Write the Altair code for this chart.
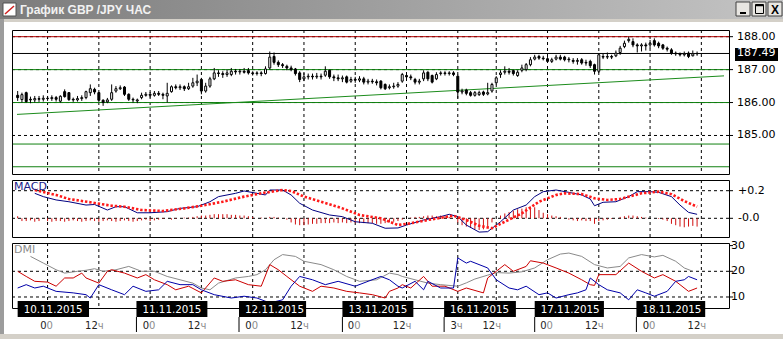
import altair as alt
import pandas as pd

FONT = "DejaVu Sans"

# ---------------- hourly candles (index 0 = first visible hour) ----------------
O = [186.22,186.09,186.30,186.10,186.08,186.12,186.10,186.13,186.12,186.15,
     186.04,186.33,186.30,186.10,186.08,186.12,186.15,186.30,186.40,186.30,
     186.07,186.02,186.10,186.35,186.42,186.47,186.25,186.10,186.05,186.15,
     186.22,186.25,186.22,186.28,186.25,186.20,186.33,186.48,186.45,186.48,
     186.42,186.50,186.60,186.70,186.35,186.50,186.72,186.90,186.88,186.85,
     186.85,186.95,186.93,186.95,186.97,186.90,186.88,186.90,186.88,187.05,
     187.40,187.22,187.15,187.10,187.05,187.02,186.90,186.72,186.78,186.80,
     186.78,186.80,186.83,186.98,186.78,186.75,186.72,186.78,186.65,186.70,
     186.68,186.72,186.62,186.65,186.63,186.65,186.55,186.45,186.48,186.50,
     186.65,186.82,186.78,186.70,186.62,186.72,186.92,186.82,186.72,186.88,
     186.90,186.88,186.90,186.80,186.32,186.38,186.30,186.22,186.24,186.32,
     186.26,186.35,186.60,186.85,186.92,186.95,186.97,186.82,186.98,187.00,
     187.15,187.32,187.40,187.35,187.33,187.25,187.32,187.38,187.38,187.32,
     187.28,187.25,187.30,187.22,187.25,187.15,186.95,187.40,187.38,187.40,
     187.42,187.52,187.70,187.88,187.85,187.75,187.72,187.75,187.75,187.88,
     187.80,187.75,187.65,187.60,187.50,187.48,187.45,187.50,187.42,187.48]
C = [186.15,186.24,186.03,186.08,186.12,186.10,186.13,186.12,186.15,186.10,
     186.19,186.18,186.09,186.08,186.12,186.15,186.33,186.42,186.32,186.07,
     186.00,186.08,186.30,186.42,186.45,186.25,186.10,186.08,186.08,186.22,
     186.25,186.22,186.28,186.25,186.22,186.28,186.48,186.45,186.48,186.42,
     186.48,186.60,186.65,186.35,186.50,186.72,186.90,186.88,186.85,186.90,
     186.95,186.93,186.95,186.92,186.90,186.88,186.90,186.88,187.02,187.38,
     187.22,187.15,187.12,187.05,187.00,186.88,186.70,186.78,186.80,186.78,
     186.80,186.78,186.95,186.78,186.75,186.72,186.75,186.62,186.70,186.68,
     186.72,186.62,186.65,186.63,186.60,186.45,186.42,186.48,186.50,186.55,
     186.85,186.78,186.75,186.62,186.65,186.90,186.72,186.62,186.85,186.90,
     186.88,186.90,186.85,186.32,186.35,186.28,186.22,186.30,186.30,186.25,
     186.30,186.55,186.75,186.90,186.95,186.92,186.88,186.92,187.05,187.15,
     187.30,187.38,187.35,187.33,187.25,187.30,187.38,187.32,187.30,187.30,
     187.25,187.28,187.20,187.20,187.12,186.95,187.45,187.38,187.40,187.38,
     187.50,187.65,187.80,187.92,187.75,187.72,187.75,187.72,187.80,187.75,
     187.72,187.65,187.62,187.50,187.48,187.45,187.48,187.40,187.48,187.49]
H = [186.35,186.30,186.33,186.18,186.20,186.20,186.22,186.20,186.22,186.20,
     186.22,186.40,186.32,186.15,186.20,186.22,186.36,186.55,186.45,186.32,
     186.10,186.14,186.55,186.50,186.52,186.50,186.28,186.15,186.12,186.30,
     186.32,186.32,186.35,186.35,186.30,186.60,186.52,186.55,186.55,186.52,
     186.60,186.75,186.85,186.75,186.60,186.78,187.05,186.98,186.95,187.00,
     187.05,187.02,187.02,187.05,187.05,186.95,186.95,186.95,187.10,187.55,
     187.52,187.28,187.20,187.15,187.12,187.05,186.95,186.90,186.88,186.88,
     186.90,186.88,187.10,187.00,186.85,186.85,186.82,186.82,186.78,186.78,
     186.80,186.78,186.72,186.72,186.70,186.68,186.58,186.55,186.60,186.62,
     186.90,186.88,186.85,186.75,186.72,186.98,186.95,186.85,186.92,186.95,
     186.95,186.95,186.95,186.85,186.42,186.42,186.35,186.35,186.36,186.36,
     186.60,186.60,186.80,186.98,187.10,187.05,187.00,186.98,187.15,187.20,
     187.38,187.45,187.45,187.42,187.38,187.36,187.45,187.45,187.42,187.38,
     187.35,187.35,187.35,187.30,187.30,187.18,187.50,187.48,187.52,187.45,
     187.58,187.72,187.88,188.00,187.95,187.80,187.80,187.82,187.90,187.95,
     187.85,187.78,187.70,187.65,187.55,187.52,187.55,187.55,187.58,187.55]
L = [186.05,186.00,186.00,185.98,186.00,186.02,186.03,186.05,186.05,186.03,
     186.00,186.15,186.05,186.02,186.03,186.05,186.10,186.20,186.25,186.02,
     185.90,185.98,186.05,186.30,186.38,186.20,186.05,186.00,185.98,186.10,
     186.18,186.15,186.18,186.20,186.10,186.00,186.30,186.40,186.38,186.35,
     186.38,186.45,186.50,186.25,186.30,186.45,186.68,186.78,186.75,186.78,
     186.80,186.85,186.85,186.88,186.85,186.82,186.82,186.80,186.85,187.00,
     187.15,187.08,187.05,186.98,186.95,186.82,186.62,186.65,186.70,186.70,
     186.72,186.70,186.78,186.72,186.65,186.65,186.62,186.58,186.60,186.60,
     186.62,186.55,186.55,186.57,186.52,186.40,186.38,186.40,186.42,186.45,
     186.60,186.70,186.68,186.55,186.55,186.65,186.65,186.58,186.68,186.82,
     186.82,186.82,186.80,186.12,186.25,186.22,186.18,186.18,186.20,186.20,
     186.22,186.30,186.55,186.75,186.85,186.85,186.82,186.78,186.92,186.95,
     187.10,187.28,187.30,187.28,187.20,187.20,187.28,187.28,187.25,187.22,
     187.18,187.15,187.15,187.12,187.05,186.85,186.90,187.32,187.32,187.32,
     187.38,187.45,187.65,187.82,187.68,187.52,187.55,187.58,187.65,187.70,
     187.65,187.60,187.55,187.45,187.42,187.40,187.40,187.35,187.40,187.42]

# ---------------- MACD ----------------
HIST = [0.015,-0.02,-0.02,-0.015,-0.025,-0.02,0.0,-0.02,-0.025,-0.02,
        -0.02,-0.025,-0.02,-0.015,-0.02,-0.025,-0.02,-0.015,-0.02,-0.025,
        -0.02,-0.015,-0.02,-0.025,-0.02,-0.015,-0.02,-0.025,-0.02,-0.015,
        -0.01,-0.02,-0.015,-0.01,-0.005,0.0,-0.01,-0.005,0.0,0.005,
        0.005,0.01,0.015,0.02,0.02,0.025,0.03,0.03,0.03,0.03,
        0.025,0.025,0.02,0.02,0.015,0.01,0.0,0.005,0.0,0.01,
        0.01,0.005,0.0,-0.01,-0.03,-0.045,-0.05,-0.05,-0.045,-0.04,
        -0.04,-0.035,-0.035,-0.035,-0.03,-0.035,-0.03,-0.035,-0.03,-0.035,
        -0.035,-0.035,-0.035,-0.035,-0.04,-0.04,-0.035,-0.03,-0.025,-0.02,
        -0.01,0.0,0.005,0.01,0.01,0.015,0.02,0.02,0.015,0.02,
        0.015,0.01,0.0,-0.03,-0.05,-0.06,-0.07,-0.08,-0.085,-0.08,
        -0.06,-0.03,0.0,0.02,0.035,0.045,0.055,0.065,0.07,0.08,
        0.085,0.08,0.06,0.04,0.03,0.02,0.015,0.01,0.0,-0.01,
        -0.015,-0.02,-0.015,-0.02,-0.02,-0.04,-0.02,-0.015,-0.01,-0.005,
        0.0,0.01,0.015,0.02,0.02,0.015,0.01,0.005,0.0,0.0,
        -0.005,-0.01,-0.02,-0.04,-0.05,-0.06,-0.065,-0.06,-0.055,-0.06]

macd_idx = [4,6,9,12,16,18,21,23,25,28,31,35,38,42,45,47,51,53,56,58,
            59,62,64,66,69,73,76,79,83,86,89,91,95,99,101,103,105,108,110,113,
            116,119,121,123,126,129,132,134,135,137,140,143,145,148,150,153,155,157,159]
macd_val = [0.181,0.157,0.133,0.12,0.096,0.10,0.06,0.084,0.084,0.04,0.04,0.048,0.072,0.084,0.12,0.157,0.181,0.198,0.181,0.169,
            0.205,0.205,0.169,0.109,0.06,0.024,0.012,-0.025,-0.036,-0.072,-0.07,-0.049,-0.012,0.012,0.029,0.012,-0.049,-0.10,-0.097,-0.025,
            0.06,0.096,0.157,0.193,0.205,0.188,0.169,0.14,0.091,0.116,0.12,0.157,0.193,0.193,0.188,0.157,0.096,0.043,0.029]
sig_idx = [4,9,12,17,22,25,29,34,39,43,48,53,57,62,64,67,71,76,80,85,
           89,92,96,102,105,108,111,114,118,122,126,128,132,135,138,141,146,150,153,156,159]
sig_val = [0.205,0.169,0.14,0.116,0.091,0.084,0.06,0.053,0.072,0.091,0.12,0.157,0.181,0.205,0.198,0.157,0.12,0.072,0.024,0.0,
           -0.049,-0.036,-0.012,0.019,-0.012,-0.054,-0.072,-0.025,0.036,0.12,0.169,0.181,0.175,0.145,0.133,0.14,0.181,0.193,0.175,0.125,0.084]

# ---------------- DMI ----------------
adx_idx = [3,6,9,11,14,16,18,20,23,26,29,32,35,38,41,43,45,47,51,54,
           56,58,60,62,65,67,71,74,77,80,84,87,89,90,93,96,99,103,105,107,
           110,112,115,118,121,124,127,129,132,135,138,141,143,146,149,151,154,156,158]
adx_val = [25.8,23.2,20.6,19.3,20,20.4,21,20,20.6,21.9,20,20,18,16.7,15.4,13.5,12.8,15.4,17.4,18,
           18.7,20.6,24.5,26.5,25.8,23.9,22.6,20.6,18,16.1,16.7,19.3,18.7,18,16.7,15.4,14.8,14.2,15.5,17.0,
           18.5,19.5,19.3,19.8,21.3,24.5,26.7,27.1,25.8,22.6,21.3,21.9,25.2,26.5,25.6,26.2,23.9,21.3,20]
pdi_idx = [0,2,4,7,9,11,13,15,16,19,21,22,25,28,30,32,35,37,40,43,
           46,48,51,54,57,59,61,63,66,69,71,74,77,80,83,86,87,89,90,92,
           95,97,100,103,105,109,110,112,114,116,119,120,123,126,129,132,134,135,136,140,
           143,146,149,151,154,157,159]
pdi_val = [20,18,16.1,15.8,14.2,17.4,17.4,19.3,17.4,15.4,20,20.6,19.3,17.4,18.7,16.7,14.8,12.8,14.2,11.6,
           17.4,16.1,16.7,14.8,14.2,22.6,20.6,18,14.2,12.2,14.2,13.5,12.2,11.6,10.9,9.6,12.2,13.5,14.8,13.5,
           18,14.2,14.2,12.2,13.5,11.6,17.4,20,22.6,20,21.9,24.1,23.2,21.3,19.3,16.7,14.8,14.5,18.7,18.7,
           23.2,20,17.4,18.7,16.1,12.2,13.5]
mdi_idx = [0,2,4,6,9,13,16,17,19,22,25,27,30,33,35,38,41,43,46,50,
           53,56,59,62,64,66,69,72,75,79,82,85,87,89,90,93,95,96,99,102,
           103,105,106,110,112,115,117,119,122,124,126,129,131,133,134,136,138,141,143,145,
           147,149,152,154,156,157,159]
mdi_val = [13.5,14.8,13.5,14.2,12.2,11.6,10.9,9.6,14.8,12.8,10.9,14.2,12.2,12.8,16.1,14.8,14.8,12.8,10.9,9.6,
           10.3,9.6,7.7,8.9,14.2,18,16.7,14.8,16.1,14.2,16.1,18,16.7,14.2,13.5,16.1,12.8,16.1,13.5,13.5,
           25.2,23.2,23.9,21.3,16.7,13.5,12.8,14.2,10.9,11.6,9.6,10.9,11.6,12.8,17.4,14.8,12.8,11.6,8.9,12.8,
           11.6,10.3,12.2,16.1,16.7,18,16.7]

# ---------------- levels, trend, axes, time labels ----------------
level_val = [188.0, 187.49, 187.0, 186.0, 184.74, 184.05]
level_col = ["#b00000", "#000000", "#108010", "#108010", "#108010", "#108010"]
trend_idx = [-0.154, 165.3]
trend_val = [185.64, 186.81]

price_ticks = [188.0, 187.0, 186.0, 185.0]
price_text = ["188.00", "187.00", "186.00", "185.00"]
macd_ticks = [0.2, 0.0]
macd_text = ["+0.2", "-0.0"]
dmi_ticks = [30, 20, 10]
dmi_text = ["30", "20", "10"]

grid_idx = [7, 19, 31, 43, 55, 67, 79, 91, 103, 112, 124, 136, 148, 160]
hour_num = ["0", "12", "0", "12", "0", "12", "0", "12", "3", "12", "0", "12", "0", "12"]
hour_suf = ["0", "ч", "0", "ч", "0", "ч", "0", "ч", "ч", "ч", "0", "ч", "0", "ч"]

date_text = ["10.11.2015", "11.11.2015", "12.11.2015", "13.11.2015", "16.11.2015", "17.11.2015", "18.11.2015"]
date_start = [0.0, 27.8, 51.8, 76.0, 99.8, 121.0, 144.8]
date_end = [16.7, 44.4, 67.5, 92.6, 116.6, 137.2, 160.9]

# ---------------- frames ----------------
N = len(C)
assert len(O) == N and len(H) == N and len(L) == N and len(HIST) == N
assert len(macd_idx) == len(macd_val) and len(sig_idx) == len(sig_val)
assert len(adx_idx) == len(adx_val) and len(pdi_idx) == len(pdi_val) and len(mdi_idx) == len(mdi_val)

cdf = pd.DataFrame({"i": list(range(N)), "o": O, "h": H, "l": L, "c": C})
cdf["lo"] = cdf[["o", "c"]].min(axis=1)
cdf["hi"] = cdf[["o", "c"]].max(axis=1)
hdf = pd.DataFrame({"i": list(range(N)), "v": HIST, "z": 0.0})
macd_df = pd.DataFrame({"i": macd_idx, "v": macd_val})
sig_df = pd.DataFrame({"i": sig_idx, "v": sig_val})
adx_df = pd.DataFrame({"i": adx_idx, "v": adx_val})
pdi_df = pd.DataFrame({"i": pdi_idx, "v": pdi_val})
mdi_df = pd.DataFrame({"i": mdi_idx, "v": mdi_val})
lev_df = pd.DataFrame({"v": level_val, "col": level_col})
trend_df = pd.DataFrame({"i": trend_idx, "v": trend_val})
grid_df = pd.DataFrame({"i": grid_idx, "num": hour_num, "suf": hour_suf})
date_df = pd.DataFrame({"s": date_start, "e": date_end, "t": date_text})
pt_df = pd.DataFrame({"v": price_ticks, "t": price_text})
mt_df = pd.DataFrame({"v": macd_ticks, "t": macd_text})
dt_df = pd.DataFrame({"v": dmi_ticks, "t": dmi_text})
one = pd.DataFrame({"k": [0]})

# ---------------- scales ----------------
XS = alt.Scale(domain=[-0.154, 165.3], range=[12, 729], nice=False, zero=False)
PS = alt.Scale(domain=[183.83, 188.203], range=[174, 30], nice=False, zero=False)
MS = alt.Scale(domain=[-0.1355, 0.2775], range=[237, 180], nice=False, zero=False)
DS = alt.Scale(domain=[5.72, 31.01], range=[308, 243], nice=False, zero=False)


def X(f="i"):
    return alt.X(f + ":Q", scale=XS, axis=None)


def Y(f, s):
    return alt.Y(f + ":Q", scale=s, axis=None)


def box(x1, x2, y1, y2, **kw):
    return alt.Chart(one).mark_rect(**kw).encode(
        x=alt.value(x1), x2=alt.value(x2), y=alt.value(y1), y2=alt.value(y2))


layers = []

# window chrome
layers.append(box(0, 783, 0, 339, fill="white"))
layers.append(box(0, 783, 0, 19, fill=alt.Gradient(
    gradient="linear",
    stops=[alt.GradientStop(color="#7c7c7c", offset=0), alt.GradientStop(color="#c4c4c4", offset=1)],
    x1=0, x2=1, y1=0, y2=0)))
layers.append(box(0, 783, 19, 22, fill="#d4d0c8"))
layers.append(box(0, 4, 19, 339, fill="#9c9c9c"))
layers.append(box(0, 783, 334, 339, fill="#d4d0c8"))
layers.append(box(3, 16, 3, 16, fill="white", stroke="#505050", strokeWidth=1))
layers.append(alt.Chart(one).mark_rule(color="#d02020", strokeWidth=1.5).encode(
    x=alt.value(5), y=alt.value(14), x2=alt.value(14), y2=alt.value(6)))
layers.append(alt.Chart(one).mark_text(
    text="График GBP /JPY ЧАС", align="left", baseline="middle", font="Liberation Sans",
    fontSize=12, fontWeight="bold", color="#f2f2f2").encode(x=alt.value(20), y=alt.value(10)))
for (a, b) in [(736, 750), (752, 766), (768, 782)]:
    layers.append(box(a, b, 2, 16, fill="#e8e6e2", stroke="#404040", strokeWidth=1))
layers.append(alt.Chart(one).mark_rule(color="black", strokeWidth=2).encode(
    x=alt.value(740), x2=alt.value(746), y=alt.value(13), y2=alt.value(13)))
layers.append(box(755.5, 763.5, 4.5, 13.5, fillOpacity=0, stroke="black", strokeWidth=1))
layers.append(alt.Chart(one).mark_rule(color="black", strokeWidth=1.5).encode(
    x=alt.value(755.5), x2=alt.value(763.5), y=alt.value(5.5), y2=alt.value(5.5)))
layers.append(alt.Chart(one).mark_text(
    text="X", align="center", baseline="middle", font="Liberation Sans",
    fontSize=12, fontWeight="bold", color="black").encode(x=alt.value(775), y=alt.value(9.5)))

# vertical dashed grid in the three panes
for (t, b) in [(30, 174), (180, 237), (243, 308)]:
    layers.append(alt.Chart(grid_df).mark_rule(color="black", strokeWidth=1, strokeDash=[3, 3]).encode(
        x=X(), y=alt.value(t), y2=alt.value(b)))

# horizontal dashed grid
for (vals, s) in [([185.0, 186.0, 187.0, 188.0], PS), ([0.0, 0.2], MS), ([10, 20], DS)]:
    layers.append(alt.Chart(pd.DataFrame({"v": vals})).mark_rule(
        color="black", strokeWidth=1, strokeDash=[3, 3]).encode(
        x=alt.value(12), x2=alt.value(729), y=Y("v", s)))

# level lines
layers.append(alt.Chart(lev_df).mark_rule(strokeWidth=1).encode(
    x=alt.value(12), x2=alt.value(729), y=Y("v", PS), color=alt.Color("col:N", scale=None)))
# trend line
layers.append(alt.Chart(trend_df).mark_line(color="#1c8c1c", strokeWidth=1).encode(
    x=X(), y=Y("v", PS)))

# candles
layers.append(alt.Chart(cdf).mark_rule(color="black", strokeWidth=1).encode(
    x=X(), y=Y("l", PS), y2="h:Q"))
layers.append(alt.Chart(cdf).mark_bar(size=2, stroke="black", strokeWidth=1).encode(
    x=X(), y=Y("lo", PS), y2="hi:Q",
    fill=alt.condition("datum.c >= datum.o", alt.value("white"), alt.value("black"))))

# MACD
layers.append(alt.Chart(hdf).mark_rule(color="#d01010", strokeWidth=1).encode(
    x=X(), y=Y("z", MS), y2="v:Q"))
layers.append(alt.Chart(macd_df).mark_line(color="#000080", strokeWidth=1).encode(
    x=X(), y=Y("v", MS)))
layers.append(alt.Chart(sig_df).mark_line(color="#ff1a1a", strokeWidth=2.6, strokeDash=[2.4, 1.9]).encode(
    x=X(), y=Y("v", MS)))

# DMI
layers.append(alt.Chart(adx_df).mark_line(color="#8a8a8a", strokeWidth=1).encode(x=X(), y=Y("v", DS)))
layers.append(alt.Chart(pdi_df).mark_line(color="#cc0000", strokeWidth=1).encode(x=X(), y=Y("v", DS)))
layers.append(alt.Chart(mdi_df).mark_line(color="#0000a8", strokeWidth=1).encode(x=X(), y=Y("v", DS)))

# pane borders
for (t, b) in [(30.5, 174.5), (180.5, 237.5), (243.5, 308.5)]:
    layers.append(box(12.5, 729.5, t, b, fillOpacity=0, stroke="black", strokeWidth=1))

# right-hand scale labels and ticks
for (df_, s, xx) in [(pt_df, PS, 737), (mt_df, MS, 738), (dt_df, DS, 731)]:
    layers.append(alt.Chart(df_).mark_rule(color="black", strokeWidth=1).encode(
        x=alt.value(729), x2=alt.value(733), y=Y("v", s)))
    layers.append(alt.Chart(df_).mark_text(
        align="left", baseline="middle", font=FONT, fontSize=11, color="black").encode(
        x=alt.value(xx), y=Y("v", s), text="t:N"))

# current price marker
layers.append(box(735, 778, 48, 61, fill="black"))
layers.append(alt.Chart(pd.DataFrame({"v": [187.49], "t": ["187.49"]})).mark_text(
    align="left", baseline="middle", font=FONT, fontSize=11, color="white").encode(
    x=alt.value(737), y=Y("v", PS), text="t:N"))

# pane titles
layers.append(alt.Chart(one).mark_text(
    text="MACD", align="left", baseline="top", font=FONT, fontSize=11, color="#20208a").encode(
    x=alt.value(14), y=alt.value(181)))
layers.append(alt.Chart(one).mark_text(
    text="DMI", align="left", baseline="top", font=FONT, fontSize=11, color="#8a8a8a").encode(
    x=alt.value(14), y=alt.value(244)))

# date boxes and time scale
layers.append(alt.Chart(date_df).mark_rect(fill="black").encode(
    x=X("s"), x2="e:Q", y=alt.value(301), y2=alt.value(317)))
layers.append(alt.Chart(date_df).mark_text(
    align="left", baseline="middle", font=FONT, fontSize=10.3, color="white", dx=6).encode(
    x=X("s"), y=alt.value(309.5), text="t:N"))
layers.append(alt.Chart(date_df.iloc[1:]).mark_rule(color="black", strokeWidth=1).encode(
    x=X("s"), y=alt.value(317), y2=alt.value(332)))
layers.append(alt.Chart(grid_df).mark_text(
    align="right", baseline="middle", font=FONT, fontSize=10, color="#222222", dx=-1).encode(
    x=X(), y=alt.value(326), text="num:N"))
layers.append(alt.Chart(grid_df).mark_text(
    align="left", baseline="middle", font=FONT, fontSize=10, color="#8c8c8c", dx=-1).encode(
    x=X(), y=alt.value(326), text="suf:N"))

chart = alt.layer(*layers).resolve_scale(y="independent").properties(
    width=783, height=339, autosize=alt.AutoSizeParams(type="none"), padding=0,
    background="white").configure_view(strokeWidth=0)

chart.save("out.html", embed_options={"renderer": "svg", "actions": False})
